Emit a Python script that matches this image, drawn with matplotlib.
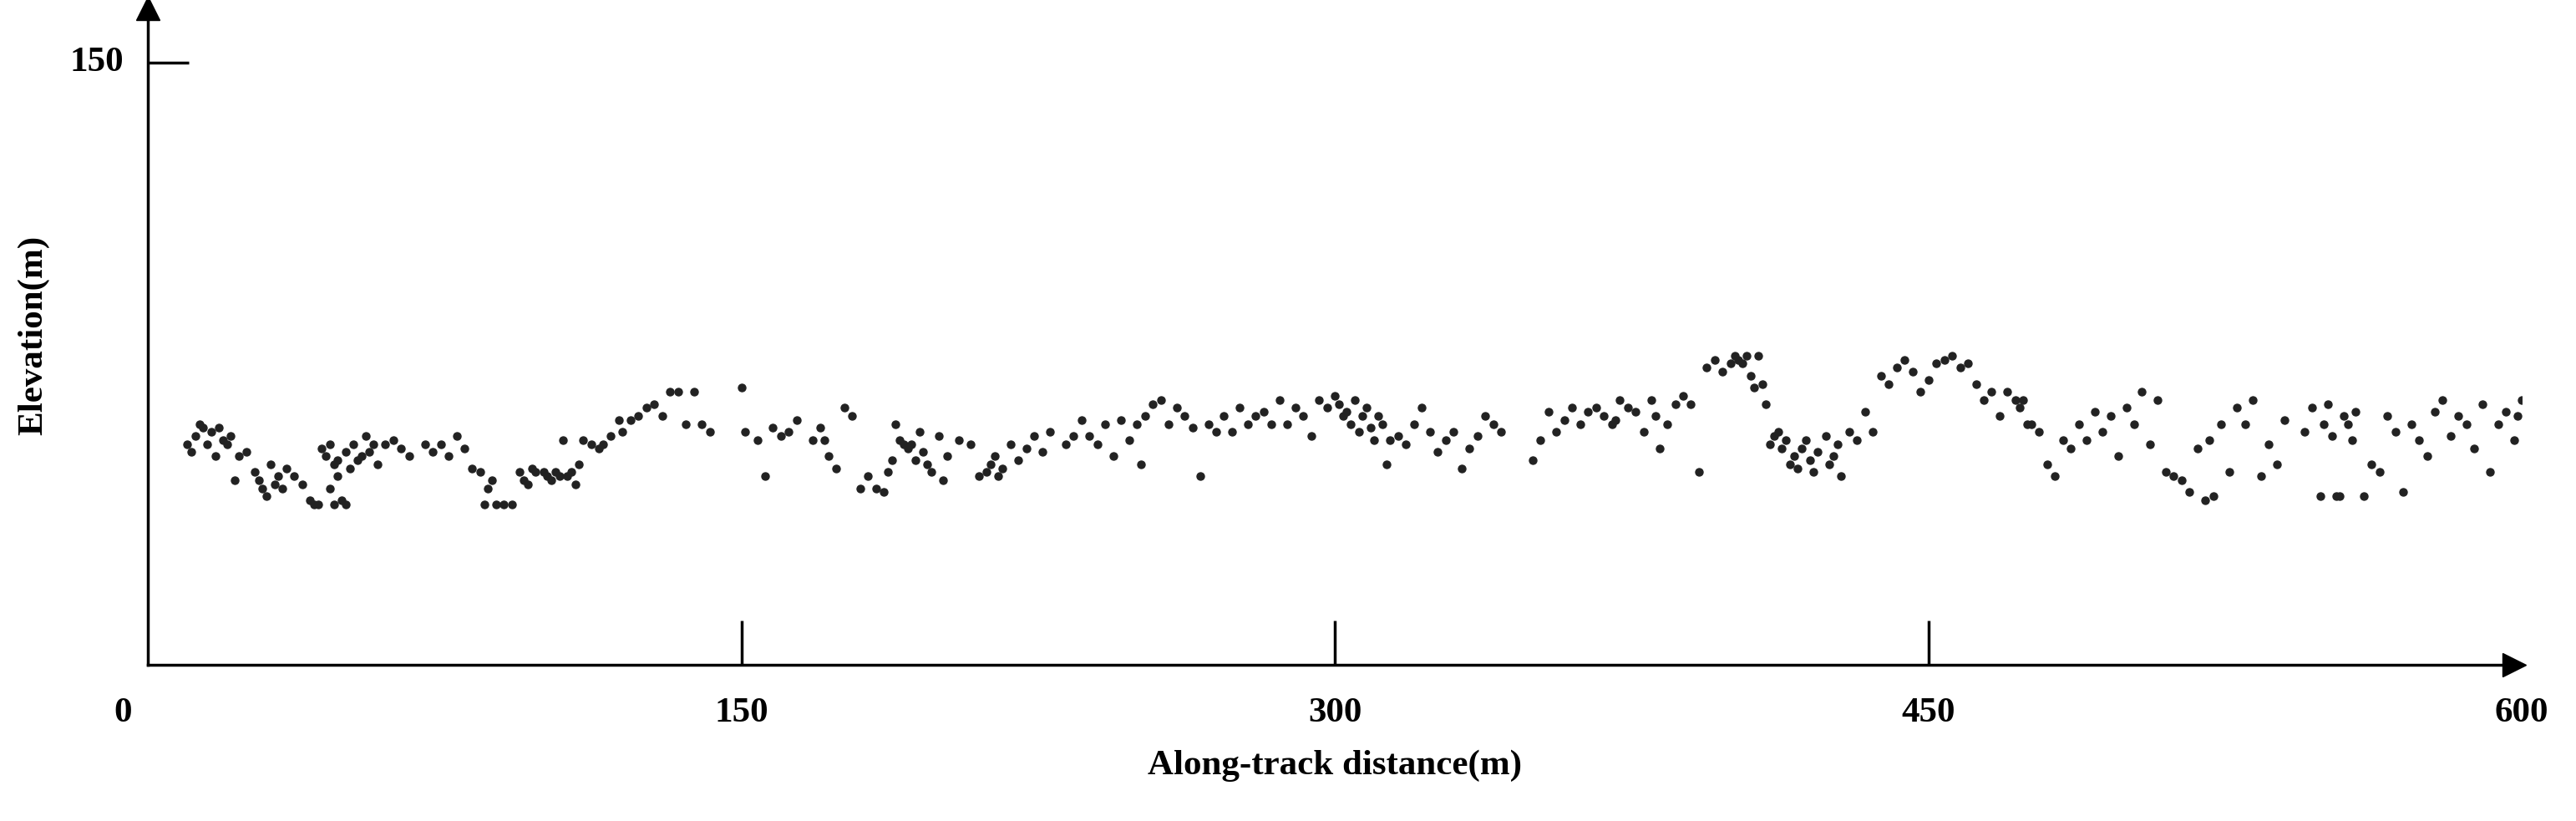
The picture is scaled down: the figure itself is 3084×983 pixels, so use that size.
import matplotlib
matplotlib.use("Agg")
import matplotlib.pyplot as plt

# along-track distance (m) and elevation (m)
dist = [10,11,12,13,14,15,16,17,18,19,20,21,22,23,25,27,28,29,30,31,32,33,34,35,37,39,
        41,42,43,44,45,46,47,48,49,50,46,47,48,50,51,52,53,54,55,56,57,58,60,62,64,66,70,72,74,76,78,
        80,82,84,85,86,87,88,90,92,94,95,96,97,98,100,101,102,103,104,105,106,107,108,109,110,112,114,115,
        117,119,120,122,124,126,128,130,132,134,136,138,140,142,
        150,151,154,156,158,160,162,164,168,170,171,172,174,176,178,180,182,184,
        186,187,188,189,190,191,192,193,194,195,196,197,198,200,201,202,205,
        208,210,212,213,214,215,216,218,220,222,224,226,228,232,234,236,238,240,242,244,246,248,
        250,251,252,254,256,258,260,262,264,266,268,270,272,274,276,278,280,282,284,286,288,290,292,294,296,298,
        300,301,302,303,304,305,306,307,308,309,310,311,312,313,314,316,318,320,322,324,326,328,330,332,334,336,338,340,342,
        350,352,354,356,358,360,362,364,366,368,370,371,372,374,376,378,
        380,381,382,384,386,388,390,392,394,396,398,400,401,402,403,404,
        405,406,407,408,409,410,411,412,413,414,415,416,417,418,419,420,421,422,424,
        425,426,427,428,430,432,434,436,438,440,442,444,446,448,450,452,454,456,458,460,462,464,466,468,470,
        472,473,474,475,476,478,480,482,484,486,488,490,492,494,496,498,
        500,502,504,506,508,510,512,514,516,518,520,521,522,524,526,528,530,532,534,536,538,540,
        545,547,549,550,551,552,553,554,555,556,557,558,560,562,564,566,568,570,572,574,576,578,580,582,584,586,588,590,592,594,596,598,599,600]
elev = [55,53,57,60,59,55,58,52,59,56,55,57,46,52,53,48,46,44,42,50,45,47,44,49,47,45,
        41,40,40,54,52,44,40,47,41,40,55,50,51,53,49,55,51,52,57,53,55,50,55,56,54,52,55,53,55,52,57,
        54,49,48,40,44,46,40,40,40,48,46,45,49,48,48,47,46,48,47,56,47,48,45,50,56,55,54,55,
        57,61,58,61,62,64,65,62,68,68,60,68,60,58,69,58,
        56,47,59,57,58,61,56,59,56,52,49,64,62,44,47,44,43,48,
        51,60,56,55,54,55,51,58,53,50,48,57,46,52,56,55,47,
        48,50,52,47,49,55,51,54,57,53,58,55,57,61,57,55,60,52,61,56,60,50,
        62,65,66,60,64,62,59,47,60,58,62,58,64,60,62,63,60,66,60,64,62,57,66,64,67,65,62,63,60,66,
        58,62,64,59,56,62,60,50,56,57,55,60,64,58,53,56,58,49,54,57,62,60,58,51,56,63,58,61,64,
        60,63,64,62,60,61,66,64,63,58,66,62,54,60,65,67,
        65,48,74,76,73,75,77,76,75,77,72,69,77,70,65,55,
        57,58,54,56,50,52,49,54,56,51,48,53,57,50,52,55,47,58,56,
        63,58,72,70,74,76,73,68,71,75,76,77,74,75,70,66,68,62,68,66,64,66,60,60,58,
        50,47,56,54,60,56,63,58,62,52,64,60,68,55,66,48,
        47,46,43,54,41,56,42,60,48,64,60,66,47,55,50,61,58,64,42,60,65,57,
        42,42,62,60,56,63,42,50,48,62,58,43,60,56,52,63,66,57,62,60,54,65,48,60,63,56,62,66,64,58,68,55]
n = min(len(dist), len(elev))
dist, elev = dist[:n], elev[:n]

plt.rcParams['font.family'] = ['Liberation Serif', 'DejaVu Serif']
fig = plt.figure(figsize=(30.84, 9.83), dpi=100)
ax = fig.add_axes([0.0574, 0.19, 0.9216, 0.80])
ax.scatter(dist, elev, s=42, color='#222222', zorder=3)
ax.set_xlim(0, 600)
ax.set_ylim(0, 163.5)
for s in ['top', 'right']:
    ax.spines[s].set_visible(False)
for s in ['left', 'bottom']:
    ax.spines[s].set_linewidth(2.5)
ax.set_xticks([150, 300, 450])
ax.set_yticks([150])
ax.tick_params(axis='x', direction='in', length=38, width=2.5, labelbottom=False)
ax.tick_params(axis='y', direction='in', length=35, width=2.5, labelleft=False)
ax.plot([0], [163.5], marker='^', color='black', markersize=20, clip_on=False)
ax.plot([598], [0], marker='>', color='black', markersize=20, clip_on=False)
for v in [150, 300, 450, 600]:
    ax.text(v, -8, str(v), ha='center', va='top', fontsize=31, fontweight='bold')
ax.text(-4, -8, '0', ha='right', va='top', fontsize=31, fontweight='bold')
ax.text(-6, 150, '150', ha='right', va='center', fontsize=31, fontweight='bold')
ax.text(300, -21, 'Along-track distance(m)', ha='center', va='top', fontsize=31, fontweight='bold')
ax.text(-29, 82, 'Elevation(m)', ha='center', va='center', rotation=90, fontsize=31, fontweight='bold')
fig.savefig('out.png', dpi=100)
